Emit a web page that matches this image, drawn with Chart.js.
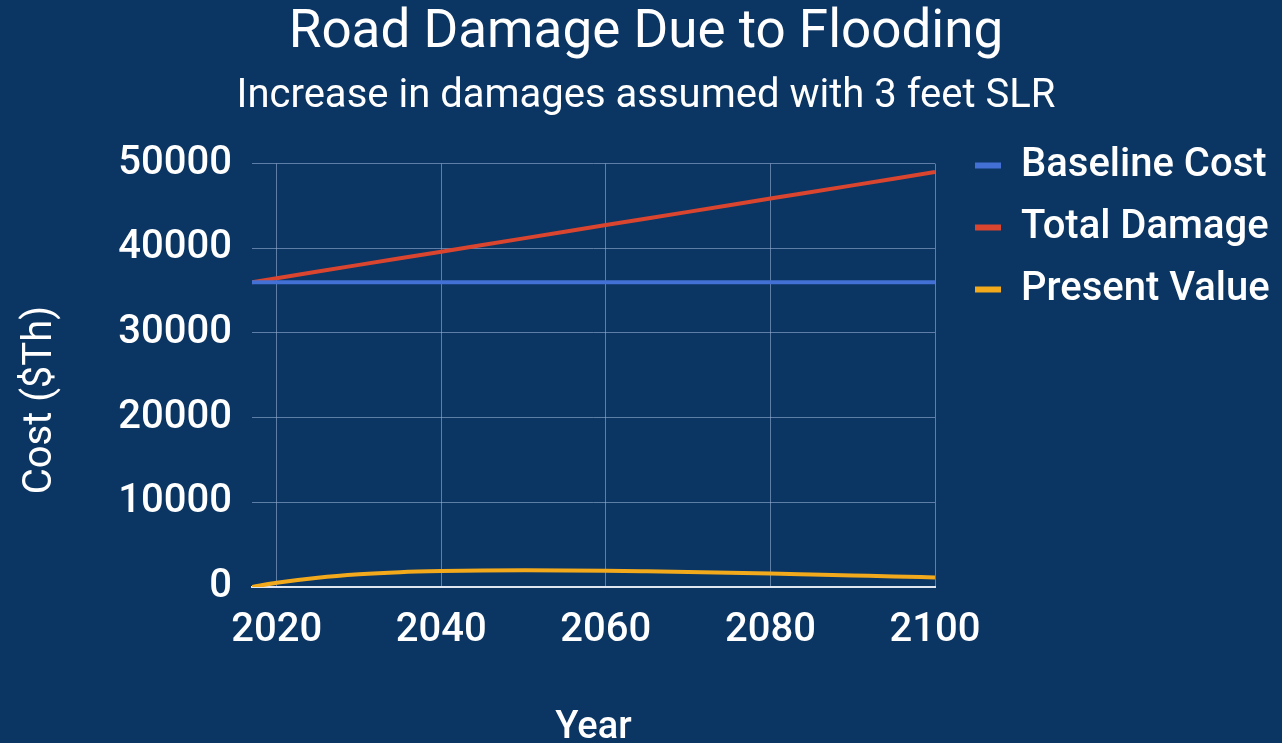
<!DOCTYPE html>
<html>
<head>
<meta charset="utf-8">
<title>Road Damage Due to Flooding</title>
<script src="https://cdn.jsdelivr.net/npm/chart.js@4/dist/chart.umd.min.js"></script>
<style>
    html, body {
        margin: 0;
        padding: 0;
        background: #0b3563;
        overflow: hidden;
    }
    canvas {
        display: block;
    }
</style>
</head>
<body>
<canvas id="myChart" width="1282" height="743"></canvas>
<script>
const anos = [2017, 2020, 2025, 2030, 2035, 2040, 2045, 2050, 2055, 2060, 2065, 2070, 2075, 2080, 2085, 2090, 2095, 2100];
const custoBase = [36000, 36000, 36000, 36000, 36000, 36000, 36000, 36000, 36000, 36000, 36000, 36000, 36000, 36000, 36000, 36000, 36000, 36000];
const danoTotal = [36000, 36470, 37250, 38040, 38820, 39600, 40390, 41170, 41950, 42740, 43520, 44300, 45080, 45870, 46650, 47430, 48220, 49000];
const valorPresente = [0, 500, 1100, 1500, 1750, 1880, 1950, 1980, 1960, 1920, 1850, 1770, 1680, 1580, 1470, 1360, 1250, 1130];
const ticksAno = [2020, 2040, 2060, 2080, 2100];
const ticksCusto = [0, 10000, 20000, 30000, 40000, 50000];

const canvasChart = document.getElementById('myChart');

const pontos = serie => anos.map((ano, i) => ({ x: ano, y: serie[i] }));

// legend sits higher and a bit further right than the layout places it
const ajustaLegenda = {
    id: 'ajustaLegenda',
    afterLayout(chart) {
        const legenda = chart.legend;
        legenda.top = chart.chartArea.top - 40;
        legenda.left = chart.chartArea.right + 18;
        legenda.right = chart.width;
    }
};

const branco = '#ffffff';
const corGrade = 'rgba(150, 175, 215, 0.6)';

window.myChart = new Chart(canvasChart, {
    type: 'line',
    data: {
        datasets: [{
                label: 'Baseline Cost',
                data: pontos(custoBase),
                borderColor: '#4270d4',
                backgroundColor: '#4270d4',
                borderWidth: 4
            },
            {
                label: 'Total Damage',
                data: pontos(danoTotal),
                borderColor: '#d9452f',
                backgroundColor: '#d9452f',
                borderWidth: 4
            },
            {
                label: 'Present Value',
                data: pontos(valorPresente),
                borderColor: '#f2a91c',
                backgroundColor: '#f2a91c',
                borderWidth: 4,
                cubicInterpolationMode: 'monotone'
            }
        ]
    },
    plugins: [ajustaLegenda],
    options: {
        responsive: false,
        animation: false,
        elements: {
            point: { radius: 0 }
        },
        layout: {
            padding: { left: 68, right: 58, top: 0, bottom: 0 }
        },
        plugins: {
            title: {
                display: true,
                text: 'Road Damage Due to Flooding',
                color: branco,
                font: { family: 'Roboto', size: 53, weight: 'normal', lineHeight: 1.2 },
                padding: { top: 2, bottom: 0 }
            },
            subtitle: {
                display: true,
                text: 'Increase in damages assumed with 3 feet SLR',
                color: branco,
                font: { family: 'Roboto', size: 40, weight: 'normal', lineHeight: 1.2 },
                padding: { top: 7, bottom: 43 }
            },
            legend: {
                position: 'right',
                align: 'start',
                fullSize: false,
                labels: {
                    color: branco,
                    font: { family: 'Roboto', size: 40, weight: '500' },
                    boxWidth: 26,
                    boxHeight: 6,
                    padding: 22,
                    // flat swatches, no outline
                    generateLabels: chart => Chart.defaults.plugins.legend.labels.generateLabels(chart)
                        .map(item => ({ ...item, lineWidth: 0 }))
                }
            },
            tooltip: { enabled: false }
        },
        scales: {
            x: {
                type: 'linear',
                min: 2017,
                max: 2100,
                afterBuildTicks: eixo => {
                    eixo.ticks = ticksAno.map(v => ({ value: v }));
                },
                afterFit: eixo => {
                    eixo.height = 156;
                },
                ticks: {
                    color: branco,
                    font: { family: 'Roboto', size: 40, weight: '500' },
                    padding: 20,
                    maxRotation: 0,
                    callback: v => String(v)
                },
                grid: {
                    color: corGrade,
                    lineWidth: 1,
                    drawTicks: false
                },
                border: {
                    display: true,
                    color: '#dfe6ef',
                    width: 2
                },
                title: {
                    display: true,
                    text: 'Year',
                    color: branco,
                    font: { family: 'Roboto', size: 38, weight: '500', lineHeight: 0.75 },
                    padding: { top: 0, bottom: 0 }
                }
            },
            y: {
                min: 0,
                max: 50000,
                afterBuildTicks: eixo => {
                    eixo.ticks = ticksCusto.map(v => ({ value: v }));
                },
                afterFit: eixo => {
                    eixo.width = 184;
                },
                ticks: {
                    color: branco,
                    font: { family: 'Roboto', size: 40, weight: '500' },
                    padding: 20,
                    callback: v => String(v)
                },
                grid: {
                    color: corGrade,
                    lineWidth: 1,
                    drawTicks: false
                },
                border: { display: false },
                title: {
                    display: true,
                    // trailing spaces push the rotated title a little lower
                    text: 'Cost ($Th)\u00a0\u00a0\u00a0\u00a0\u00a0',
                    color: branco,
                    font: { family: 'Roboto', size: 40, weight: 'normal', lineHeight: 1.2 },
                    padding: { top: -51, bottom: 0 }
                }
            }
        }
    }
});
</script>
</body>
</html>
